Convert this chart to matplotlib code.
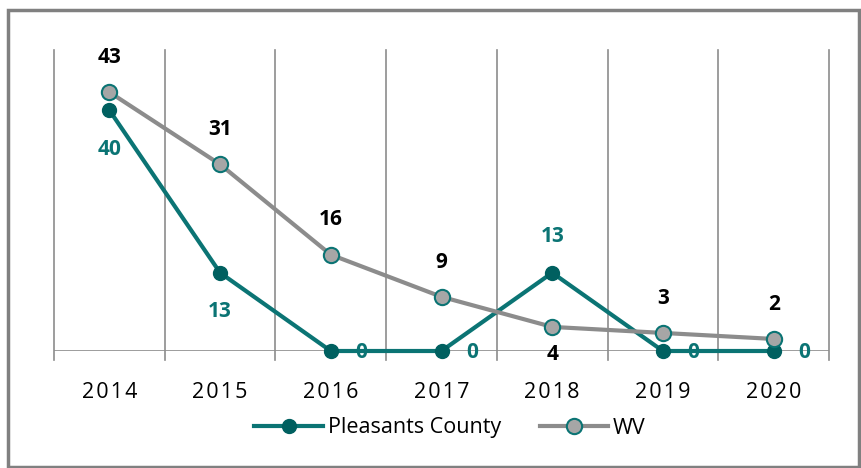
import matplotlib.pyplot as plt
from matplotlib.patches import Rectangle

years = ['2014', '2015', '2016', '2017', '2018', '2019', '2020']
pleasants = [40, 13, 0, 0, 13, 0, 0]
wv = [43, 31, 16, 9, 4, 3, 2]

teal = '#0b7474'
teal_dark = '#006060'
gray = '#8c8c8c'

plt.rcParams['font.family'] = ['Open Sans', 'DejaVu Sans']

fig = plt.figure(figsize=(8.61, 4.68), dpi=100)
ax = fig.add_axes([54 / 861, 1 - 351 / 468, 775 / 861, 301 / 468])

x = list(range(len(years)))
ax.plot(x, pleasants, color=teal, lw=3, marker='o', ms=10, mfc=teal_dark, mec=teal_dark,
        label='Pleasants County', zorder=3, clip_on=False)
ax.plot(x, wv, color=gray, lw=3, marker='o', ms=11, mfc='#a6a6a6', mec=teal, mew=1.5,
        label='WV', zorder=4, clip_on=False)

ax.set_xlim(-0.5, len(years) - 0.5)
ax.set_ylim(0, 50)

# vertical gridlines at category boundaries
for b in range(len(years) + 1):
    ax.plot([b - 0.5, b - 0.5], [-1.5, 50], color='#8c8c8c', lw=1.2, clip_on=False, zorder=1)
ax.axhline(0, color='#8c8c8c', lw=1.2, zorder=1)

for s in ax.spines.values():
    s.set_visible(False)
ax.set_yticks([])
ax.set_xticks(x)
ax.set_xticklabels(['\u200a'.join(y) for y in years], fontsize=15.5)
ax.tick_params(axis='x', length=0, pad=22)

lab = dict(textcoords='offset points', ha='center', va='center', fontsize=15, fontweight='bold')

# labels for WV
for i, v in enumerate(wv):
    off = (0, -20) if v == 4 else (0, 25)
    ax.annotate(str(v), (i, v), xytext=off, color='black', **lab)

# labels for Pleasants County
for i, v in enumerate(pleasants):
    if v == 0:
        off = (22, -1)
    elif i == 4:
        off = (0, 26)
    else:
        off = (0, -28)
    ax.annotate(str(v), (i, v), xytext=off, color=teal, **lab)

fig.legend(loc='center', bbox_to_anchor=(450 / 861, 1 - 428 / 468), ncol=2, frameon=False,
           fontsize=15.5, handlelength=3.2, columnspacing=1.8, handletextpad=0.2)

fig.patches.append(Rectangle((8 / 861, 1 / 468), 851 / 861, 457 / 468, transform=fig.transFigure,
                             fill=False, edgecolor='#808080', lw=2.5))

fig.savefig('out.png', dpi=100)
